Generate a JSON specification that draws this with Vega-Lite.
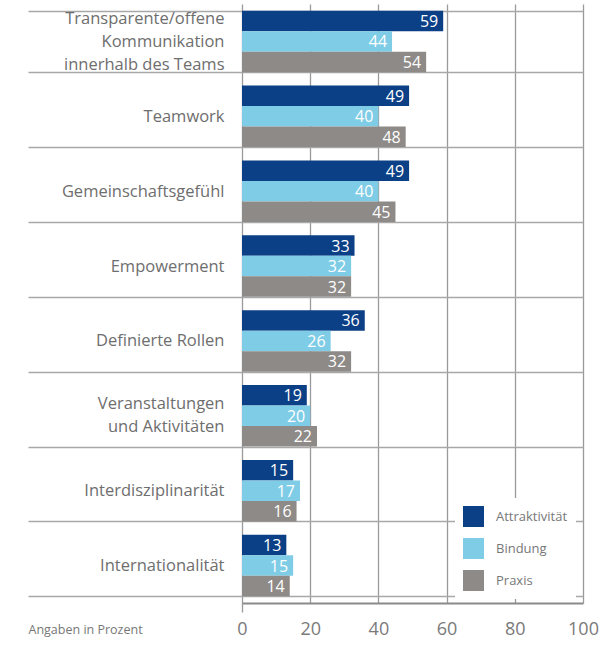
{
  "$schema": "https://vega.github.io/schema/vega-lite/v6.json",
  "width": 341,
  "height": 599,
  "autosize": {"type": "none"},
  "padding": {"left": 242, "top": 4, "right": 17, "bottom": 46},
  "background": "white",
  "config": {
    "view": {"stroke": null},
    "font": "Open Sans"
  },
  "data": {
    "values": [
      {"item": "Transparente/offene Kommunikation innerhalb des Teams", "group": "Attraktivität", "value": 59},
      {"item": "Transparente/offene Kommunikation innerhalb des Teams", "group": "Bindung", "value": 44},
      {"item": "Transparente/offene Kommunikation innerhalb des Teams", "group": "Praxis", "value": 54},
      {"item": "Teamwork", "group": "Attraktivität", "value": 49},
      {"item": "Teamwork", "group": "Bindung", "value": 40},
      {"item": "Teamwork", "group": "Praxis", "value": 48},
      {"item": "Gemeinschaftsgefühl", "group": "Attraktivität", "value": 49},
      {"item": "Gemeinschaftsgefühl", "group": "Bindung", "value": 40},
      {"item": "Gemeinschaftsgefühl", "group": "Praxis", "value": 45},
      {"item": "Empowerment", "group": "Attraktivität", "value": 33},
      {"item": "Empowerment", "group": "Bindung", "value": 32},
      {"item": "Empowerment", "group": "Praxis", "value": 32},
      {"item": "Definierte Rollen", "group": "Attraktivität", "value": 36},
      {"item": "Definierte Rollen", "group": "Bindung", "value": 26},
      {"item": "Definierte Rollen", "group": "Praxis", "value": 32},
      {"item": "Veranstaltungen und Aktivitäten", "group": "Attraktivität", "value": 19},
      {"item": "Veranstaltungen und Aktivitäten", "group": "Bindung", "value": 20},
      {"item": "Veranstaltungen und Aktivitäten", "group": "Praxis", "value": 22},
      {"item": "Interdisziplinarität", "group": "Attraktivität", "value": 15},
      {"item": "Interdisziplinarität", "group": "Bindung", "value": 17},
      {"item": "Interdisziplinarität", "group": "Praxis", "value": 16},
      {"item": "Internationalität", "group": "Attraktivität", "value": 13},
      {"item": "Internationalität", "group": "Bindung", "value": 15},
      {"item": "Internationalität", "group": "Praxis", "value": 14}
    ]
  },
  "encoding": {
    "y": {
      "field": "item",
      "type": "nominal",
      "sort": null,
      "scale": {"paddingInner": 0.18, "paddingOuter": 0.09},
      "axis": {
        "title": null,
        "domain": false,
        "tickBand": "extent",
        "tickSize": 214,
        "tickColor": "#a8a8a8",
        "tickWidth": 1.3,
        "grid": true,
        "gridColor": "#a8a8a8",
        "gridWidth": 1.3,
        "labelPadding": -196,
        "labelFont": "Open Sans",
        "labelFontSize": 16.5,
        "labelColor": "#6e6e6e",
        "labelLineHeight": 23,
        "labelLimit": 0,
        "labelOffset": {
          "condition": [
            {"test": "datum.value == 'Transparente/offene Kommunikation innerhalb des Teams'", "value": -23},
            {"test": "datum.value == 'Veranstaltungen und Aktivitäten'", "value": -12}
          ],
          "value": 0
        },
        "labelExpr": "datum.label == 'Transparente/offene Kommunikation innerhalb des Teams' ? ['Transparente/offene', 'Kommunikation', 'innerhalb des Teams'] : datum.label == 'Veranstaltungen und Aktivitäten' ? ['Veranstaltungen', 'und Aktivitäten'] : datum.label"
      }
    },
    "yOffset": {"field": "group", "type": "nominal", "sort": ["Attraktivität", "Bindung", "Praxis"]},
    "x": {
      "field": "value",
      "type": "quantitative",
      "scale": {"domain": [0, 100]},
      "axis": {
        "title": "Angaben in Prozent",
        "titleX": -214,
        "titleY": 26,
        "titleAlign": "left",
        "titleBaseline": "middle",
        "titleAngle": 0,
        "titleFont": "Open Sans",
        "titleFontSize": 12.5,
        "titleFontWeight": "normal",
        "titleColor": "#777777",
        "values": [0, 20, 40, 60, 80, 100],
        "grid": true,
        "gridColor": "#9a9a9a",
        "gridWidth": 1.3,
        "domain": true,
        "domainColor": "#8a8a8a",
        "domainWidth": 2,
        "ticks": true,
        "tickSize": 9,
        "tickWidth": 1.3,
        "tickColor": {"condition": {"test": "datum.value === 0", "value": "#9a9a9a"}, "value": "transparent"},
        "labelPadding": 8,
        "labelFont": "Open Sans",
        "labelFontSize": 18,
        "labelColor": "#7a7a7a",
        "labelFlush": false
      }
    }
  },
  "layer": [
    {
      "mark": {"type": "bar", "cornerRadius": 0},
      "encoding": {
        "color": {
          "field": "group",
          "type": "nominal",
          "sort": ["Attraktivität", "Bindung", "Praxis"],
          "scale": {"domain": ["Attraktivität", "Bindung", "Praxis"], "range": ["#0b3f86", "#7ecce6", "#8e8a87"]},
          "legend": {
            "title": null,
            "orient": "none",
            "legendX": 213,
            "legendY": 494,
            "fillColor": "white",
            "padding": 8,
            "symbolType": "square",
            "symbolSize": 441,
            "symbolStrokeWidth": 0,
            "symbolOpacity": 1,
            "rowPadding": 11,
            "labelOffset": 12,
            "labelFont": "Open Sans",
            "labelFontSize": 13,
            "labelColor": "#777777"
          }
        }
      }
    },
    {
      "mark": {"type": "text", "align": "right", "baseline": "middle", "dx": -5, "dy": 1, "color": "white", "font": "Open Sans", "fontSize": 16},
      "encoding": {
        "text": {"field": "value", "type": "quantitative"}
      }
    }
  ]
}
